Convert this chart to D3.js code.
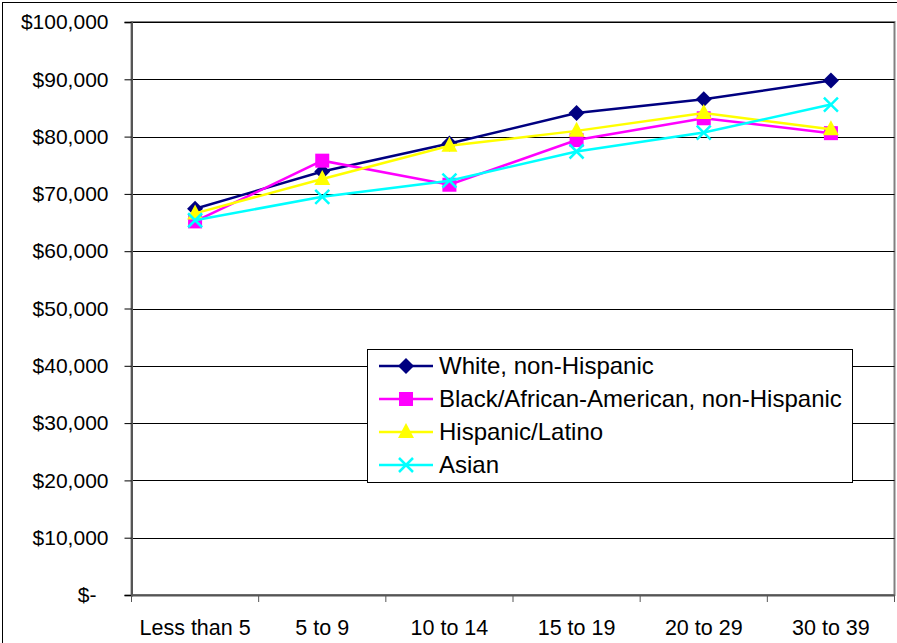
<!DOCTYPE html>
<html><head><meta charset="utf-8">
<script src="https://cdn.jsdelivr.net/npm/d3@7"></script>
<style>body{margin:0;background:#fff}svg{display:block}text{font-family:Arial,"Liberation Sans",sans-serif}</style>
</head><body>
<script>
const categories = ["Less than 5","5 to 9","10 to 14","15 to 19","20 to 29","30 to 39"];
const white    = [67400, 73900, 78800, 84100, 86500, 89800];
const black    = [65200, 75800, 71600, 79400, 83200, 80600];
const hispanic = [66600, 72600, 78400, 81000, 84100, 81300];
const asian    = [65400, 69500, 72300, 77400, 80700, 85600];
const seriesNames = ["White, non-Hispanic","Black/African-American, non-Hispanic","Hispanic/Latino","Asian"];
const yTicks = [0,10000,20000,30000,40000,50000,60000,70000,80000,90000,100000];

const W=897,H=643;
const svg=d3.select("body").append("svg").attr("width",W).attr("height",H);
svg.append("rect").attr("x",2.5).attr("y",2.5).attr("width",W+10).attr("height",H+10).attr("fill","#fff").attr("stroke","#000").attr("stroke-width",1);

const L=131.5,R=894.5,T=22,B=595;
const x=d3.scaleBand().domain(categories).range([L,R]);
const y=d3.scaleLinear().domain([0,100000]).range([B,T]);

svg.append("rect").attr("x",L).attr("y",T).attr("width",R-L).attr("height",B-T).attr("fill","#fff").attr("stroke","#808080").attr("stroke-width",2);
svg.append("g").selectAll("line").data(yTicks.filter(d=>d>0)).join("line")
  .attr("x1",L).attr("x2",R).attr("y1",d=>Math.round(y(d))+0.5).attr("y2",d=>Math.round(y(d))+0.5)
  .attr("stroke","#000").attr("stroke-width",1);

const fmt=d=>d===0?"$-":"$"+d3.format(",")(d);
const yAx=svg.append("g").attr("transform",`translate(${L},0)`)
  .call(d3.axisLeft(y).tickValues(yTicks).tickFormat(fmt).tickSize(7).tickPadding(16));
yAx.select(".domain").attr("stroke","#555").attr("stroke-width",2);
yAx.selectAll(".tick line").attr("stroke","#000");
yAx.selectAll("text").attr("font-size","21px").attr("fill","#000").each(function(d){ if(d===0) d3.select(this).attr("dx","-12"); });

const xAx=svg.append("g").attr("transform",`translate(0,${B})`)
  .call(d3.axisBottom(x).tickSize(0).tickPadding(25));
xAx.select(".domain").attr("stroke","#555").attr("stroke-width",2);
xAx.selectAll("text").attr("font-size","21.5px").attr("fill","#000");
const bounds=[...categories.map(c=>x(c)),R];
svg.append("g").selectAll("line").data(bounds).join("line")
  .attr("x1",d=>d).attr("x2",d=>d).attr("y1",B).attr("y2",B+7).attr("stroke","#555").attr("stroke-width",1);

const cx=c=>x(c)+x.bandwidth()/2;
const data=[white,black,hispanic,asian];
const colors=["#000080","#FF00FF","#FFFF00","#00FFFF"];
const shapes=["diamond","square","triangle","x"];
function marker(g,shape,color,px,py){
  if(shape==="diamond") g.append("path").attr("d",`M${px},${py-8}L${px+8},${py}L${px},${py+8}L${px-8},${py}Z`).attr("fill",color);
  else if(shape==="square") g.append("rect").attr("x",px-7).attr("y",py-7).attr("width",14).attr("height",14).attr("fill",color);
  else if(shape==="triangle") g.append("path").attr("d",`M${px},${py-9}L${px+8},${py+6}L${px-8},${py+6}Z`).attr("fill",color);
  else g.append("path").attr("d",`M${px-7},${py-7}L${px+7},${py+7}M${px+7},${py-7}L${px-7},${py+7}`).attr("stroke",color).attr("stroke-width",2.5).attr("fill","none");
}
const line=d3.line().x((d,i)=>cx(categories[i])).y(d=>y(d));
data.forEach((vals,k)=>{
  const g=svg.append("g");
  g.append("path").datum(vals).attr("d",line).attr("fill","none").attr("stroke",colors[k]).attr("stroke-width",2.5);
  vals.forEach((v,i)=>marker(g,shapes[k],colors[k],cx(categories[i]),y(v)));
});

const lg=svg.append("g");
lg.append("rect").attr("x",367.5).attr("y",349.5).attr("width",485).attr("height",133).attr("fill","#fff").attr("stroke","#000").attr("stroke-width",1);
seriesNames.forEach((n,k)=>{
  const ly=366+k*33;
  lg.append("line").attr("x1",379).attr("x2",433).attr("y1",ly).attr("y2",ly).attr("stroke",colors[k]).attr("stroke-width",2.5);
  marker(lg,shapes[k],colors[k],406,ly);
  lg.append("text").attr("x",439).attr("y",ly+8).attr("font-size","24px").attr("fill","#000").text(n);
});
</script>
</body></html>
